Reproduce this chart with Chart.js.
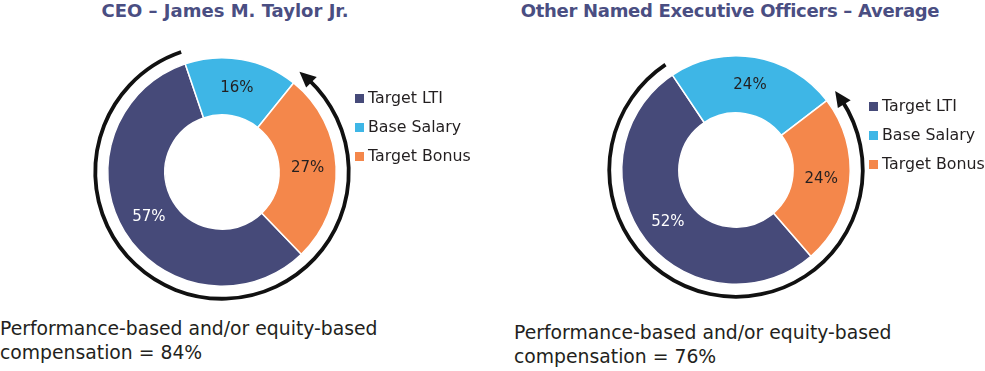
<!DOCTYPE html>
<html>
<head>
<meta charset="utf-8">
<script src="https://cdn.jsdelivr.net/npm/chart.js@4/dist/chart.umd.min.js"></script>
<style>
  html, body { margin: 0; padding: 0; background: #fff; }
  body { width: 985px; height: 371px; position: relative; overflow: hidden; font-family: "DejaVu Sans", sans-serif; }
  .title { position: absolute; top: 0; font-weight: bold; font-size: 18px; color: #4a4e82; white-space: nowrap; text-align: center; }
  .box { position: absolute; width: 290px; height: 290px; }
  .legend { position: absolute; font-size: 15.8px; color: #231f20; }
  .legend div { height: 29px; line-height: 29px; white-space: nowrap; }
  .legend span { display: inline-block; width: 9px; height: 9px; margin-right: 4px; vertical-align: 0px; }
  .note { position: absolute; font-size: 18.8px; line-height: 24px; color: #231f20; white-space: nowrap; }
</style>
</head>
<body>
<div class="title" id="title1" style="left:60px;width:330px;"></div>
<div class="title" id="title2" style="left:510px;width:440px;letter-spacing:-0.3px;"></div>
<div class="box" style="left:77px;top:27px;"><canvas id="chart1"></canvas></div>
<div class="box" style="left:591px;top:25px;"><canvas id="chart2"></canvas></div>
<div class="legend" id="legend1" style="left:355px;top:83px;"></div>
<div class="legend" id="legend2" style="left:869px;top:91px;"></div>
<div class="note" id="note1" style="left:0px;top:317px;"></div>
<div class="note" id="note2" style="left:514px;top:321px;"></div>

<script>
// categories (legend order)
const labels = ['Target LTI', 'Base Salary', 'Target Bonus'];
const colors = ['#464a79', '#3eb6e6', '#f4874b'];
const labelColors = ['#ffffff', '#231f20', '#231f20'];

// pay mix, percent
const ceoValues = [57, 16, 27];
const neoValues = [52, 24, 24];

// which slices count as performance/equity based (arrow arc)
const perfIdx = [0, 2];

const titles = ['CEO \u2013 James M. Taylor Jr.', 'Other Named Executive Officers \u2013 Average'];
const notes = [
  'Performance-based and/or equity-based<br>compensation = 84%',
  'Performance-based and/or equity-based<br>compensation = 76%'
];

document.getElementById('title1').textContent = titles[0];
document.getElementById('title2').textContent = titles[1];
document.getElementById('note1').innerHTML = notes[0];
document.getElementById('note2').innerHTML = notes[1];

function buildLegend(id) {
  const el = document.getElementById(id);
  labels.forEach((l, i) => {
    const row = document.createElement('div');
    row.innerHTML = '<span style="background:' + colors[i] + '"></span>' + l;
    el.appendChild(row);
  });
}
buildLegend('legend1');
buildLegend('legend2');

// percent labels in the middle of each ring slice
const sliceLabels = {
  id: 'sliceLabels',
  afterDatasetsDraw(chart) {
    const ctx = chart.ctx;
    const meta = chart.getDatasetMeta(0);
    const data = chart.data.datasets[0].data;
    ctx.save();
    ctx.font = '15px "DejaVu Sans", sans-serif';
    ctx.textAlign = 'center';
    ctx.textBaseline = 'middle';
    meta.data.forEach((arc, i) => {
      const p = arc.tooltipPosition();
      ctx.fillStyle = labelColors[i];
      ctx.fillText(data[i] + '%', p.x, p.y);
    });
    ctx.restore();
  }
};

// black arc with arrow head around the performance-based slices
const perfArrow = {
  id: 'perfArrow',
  afterDraw(chart) {
    const ctx = chart.ctx;
    const meta = chart.getDatasetMeta(0);
    const lti = meta.data[perfIdx[0]];
    const bonus = meta.data[perfIdx[1]];
    const cx = lti.x, cy = lti.y;
    const r = lti.outerRadius + 12.5;
    let a0 = bonus.startAngle;
    const a1 = lti.endAngle;
    if (a0 > a1) a0 -= Math.PI * 2;
    const headLen = 16, headW = 15;
    const headAng = headLen / r;

    ctx.save();
    ctx.strokeStyle = '#111';
    ctx.fillStyle = '#111';
    ctx.lineWidth = 3.8;
    ctx.beginPath();
    ctx.arc(cx, cy, r, a0 + headAng * 0.6, a1);
    ctx.stroke();

    // arrow head pointing counter-clockwise, tip just past the bonus start
    const tipA = a0 - 0.02;
    const baseA = tipA + headAng;
    const tip = [cx + r * Math.cos(tipA), cy + r * Math.sin(tipA)];
    const bIn = [cx + (r - headW / 2) * Math.cos(baseA), cy + (r - headW / 2) * Math.sin(baseA)];
    const bOut = [cx + (r + headW / 2) * Math.cos(baseA), cy + (r + headW / 2) * Math.sin(baseA)];
    ctx.beginPath();
    ctx.moveTo(tip[0], tip[1]);
    ctx.lineTo(bIn[0], bIn[1]);
    ctx.lineTo(bOut[0], bOut[1]);
    ctx.closePath();
    ctx.fill();
    ctx.restore();
  }
};

function makeChart(id, values, rotation) {
  return new Chart(document.getElementById(id), {
    type: 'doughnut',
    data: {
      labels: labels,
      datasets: [{
        data: values,
        backgroundColor: colors,
        borderColor: '#ffffff',
        borderWidth: 1.5
      }]
    },
    options: {
      responsive: true,
      maintainAspectRatio: false,
      animation: false,
      rotation: rotation,
      cutout: '50%',
      layout: { padding: 30 },
      plugins: {
        legend: { display: false },
        tooltip: { enabled: false }
      }
    },
    plugins: [sliceLabels, perfArrow]
  });
}

makeChart('chart1', ceoValues, 136);
makeChart('chart2', neoValues, 139);
</script>
</body>
</html>
